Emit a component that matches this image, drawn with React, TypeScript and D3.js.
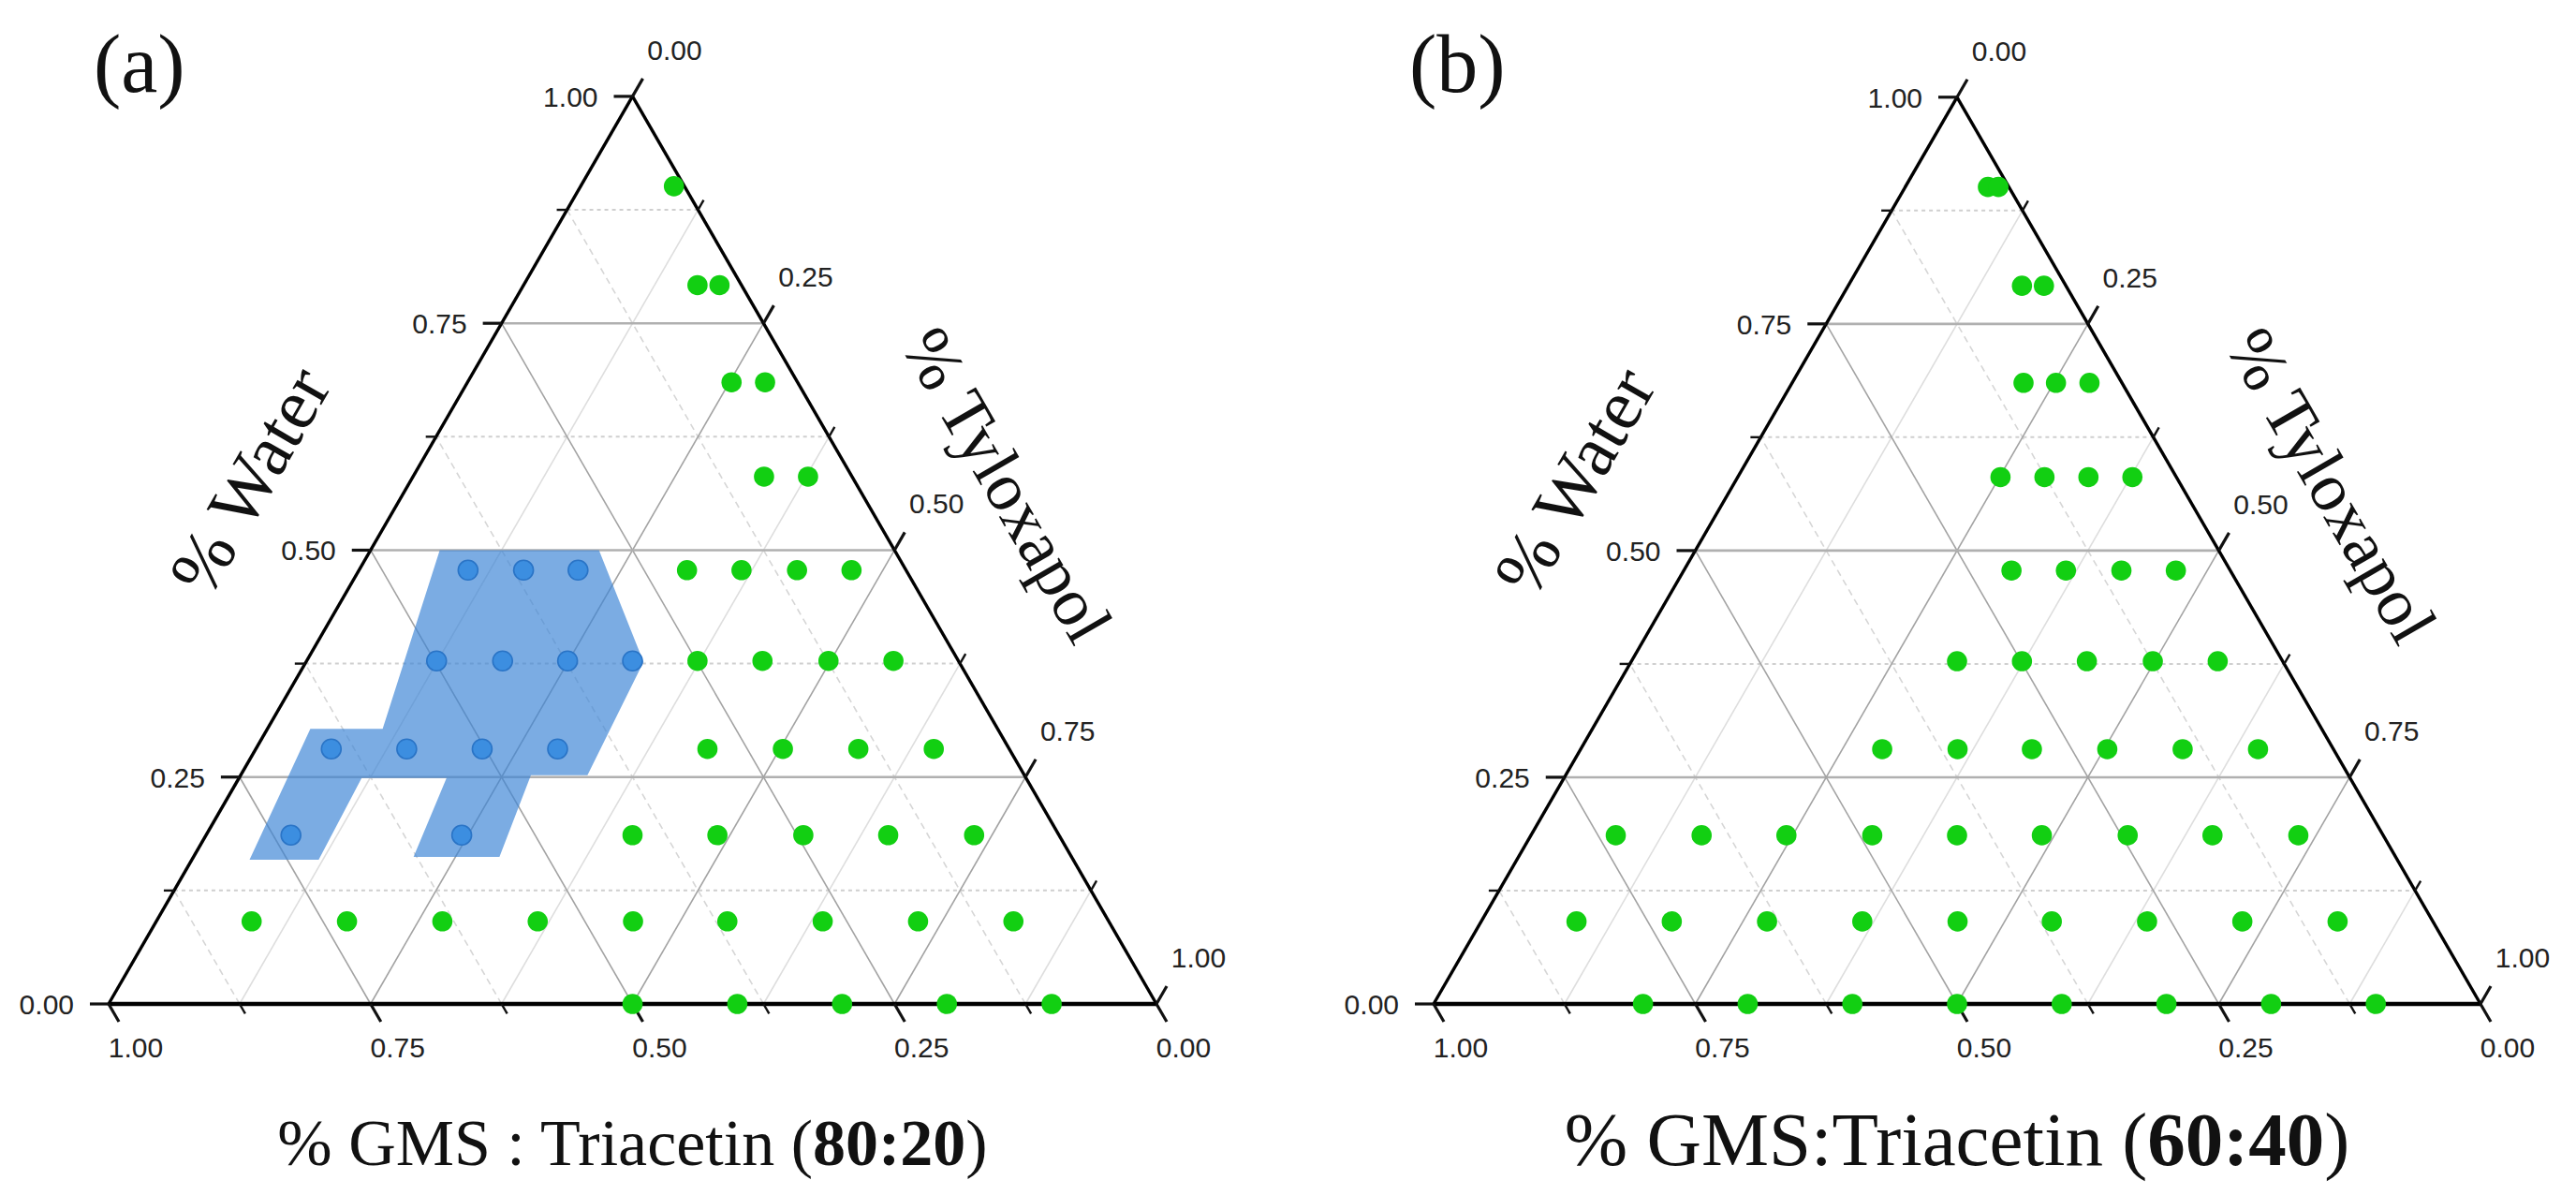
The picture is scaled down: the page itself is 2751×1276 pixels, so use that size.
import React, { useEffect } from "react";
import * as d3 from "d3";

// ---------- DATA (ternary values: [water, tyloxapol]; GMS:Triacetin = 1 - water - tyloxapol) ----------
const majorTicks = [0, 0.25, 0.5, 0.75, 1];
const minorTicks = [0.125, 0.375, 0.625, 0.875];
const tickLabels = ["0.00", "0.25", "0.50", "0.75", "1.00"];

const greenA: [number, number][] = [
  [0.901, 0.089],
  [0.792, 0.166], [0.792, 0.187],
  [0.685, 0.252], [0.685, 0.284],
  [0.581, 0.335], [0.581, 0.377],
  [0.478, 0.313], [0.478, 0.365], [0.478, 0.418], [0.478, 0.470],
  [0.378, 0.373], [0.378, 0.435], [0.378, 0.498], [0.378, 0.560],
  [0.281, 0.431], [0.281, 0.503], [0.281, 0.575], [0.281, 0.647],
  [0.186, 0.407], [0.186, 0.488], [0.186, 0.570], [0.186, 0.651], [0.186, 0.733],
  [0.091, 0.091], [0.091, 0.182], [0.091, 0.273], [0.091, 0.364], [0.091, 0.455],
  [0.091, 0.545], [0.091, 0.636], [0.091, 0.727], [0.091, 0.818],
  [0, 0.5], [0, 0.6], [0, 0.7], [0, 0.8], [0, 0.9],
];

const blueA: [number, number][] = [
  [0.478, 0.104], [0.478, 0.157], [0.478, 0.209],
  [0.378, 0.124], [0.378, 0.187], [0.378, 0.249], [0.378, 0.311],
  [0.281, 0.072], [0.281, 0.144], [0.281, 0.216], [0.281, 0.288],
  [0.186, 0.081], [0.186, 0.244],
];

const regionA: [number, number][] = [
  [0.5, 0.066], [0.5, 0.218], [0.377, 0.322], [0.252, 0.331], [0.252, 0.277],
  [0.162, 0.292], [0.162, 0.21], [0.249, 0.198], [0.249, 0.117], [0.159, 0.121],
  [0.159, 0.055], [0.303, 0.041], [0.303, 0.11],
];

const greenB: [number, number][] = [
  [0.901, 0.079], [0.901, 0.089],
  [0.792, 0.166], [0.792, 0.187],
  [0.685, 0.221], [0.685, 0.252], [0.685, 0.284],
  [0.581, 0.251], [0.581, 0.293], [0.581, 0.335], [0.581, 0.377],
  [0.478, 0.313], [0.478, 0.365], [0.478, 0.418], [0.478, 0.470],
  [0.378, 0.311], [0.378, 0.373], [0.378, 0.435], [0.378, 0.498], [0.378, 0.560],
  [0.281, 0.288], [0.281, 0.360], [0.281, 0.431], [0.281, 0.503], [0.281, 0.575], [0.281, 0.647],
  [0.186, 0.081], [0.186, 0.163], [0.186, 0.244], [0.186, 0.326], [0.186, 0.407],
  [0.186, 0.488], [0.186, 0.570], [0.186, 0.651], [0.186, 0.733],
  [0.091, 0.091], [0.091, 0.182], [0.091, 0.273], [0.091, 0.364], [0.091, 0.455],
  [0.091, 0.545], [0.091, 0.636], [0.091, 0.727], [0.091, 0.818],
  [0, 0.2], [0, 0.3], [0, 0.4], [0, 0.5], [0, 0.6], [0, 0.7], [0, 0.8], [0, 0.9],
];

const blueB: [number, number][] = [];
const regionB: [number, number][] = [];

// ---------- STYLE ----------
const W = 2751;
const H = 1276;
const SQ = Math.sqrt(3) / 2;
const TICK_FONT = "'Liberation Sans', Arial, sans-serif";
const SERIF = "'Liberation Serif', 'Times New Roman', serif";

type PanelProps = {
  left: number;
  right: number;
  bottom: number;
  green: [number, number][];
  blue: [number, number][];
  region: [number, number][];
  tag: string;
  tagX: number;
  titlePre: string;
  titleBold: string;
  titleSize: number;
};

function Panel(p: PanelProps) {
  const L = p.right - p.left;
  const x = d3.scaleLinear().domain([0, 1]).range([p.left, p.right]);
  const y = d3.scaleLinear().domain([0, 1]).range([p.bottom, p.bottom - L * SQ]);
  // water w, tyloxapol t
  const pos = (w: number, t: number): [number, number] => [x(t + w / 2), y(w)];

  const lineOf = (a: [number, number], b: [number, number], key: string, style: any) => (
    <line key={key} x1={a[0]} y1={a[1]} x2={b[0]} y2={b[1]} {...style} />
  );

  const grid: React.ReactNode[] = [];
  const minorH = { stroke: "#cfcfcf", strokeWidth: 2, strokeDasharray: "4 4" };
  const minorT = { stroke: "#dedede", strokeWidth: 1.6 };
  const minorG = { stroke: "#d6d6d6", strokeWidth: 1.6, strokeDasharray: "7 5" };
  const majorH = { stroke: "#b0b0b0", strokeWidth: 2.6 };
  const majorD = { stroke: "#a3a3a3", strokeWidth: 1.6 };
  minorTicks.forEach((v, i) => {
    grid.push(lineOf(pos(v, 0), pos(v, 1 - v), "mh" + i, minorH));
    grid.push(lineOf(pos(0, v), pos(1 - v, v), "mt" + i, minorT));
    grid.push(lineOf(pos(0, 1 - v), pos(1 - v, 0), "mg" + i, minorG));
  });
  [0.25, 0.5, 0.75].forEach((v, i) => {
    grid.push(lineOf(pos(v, 0), pos(v, 1 - v), "Mh" + i, majorH));
    grid.push(lineOf(pos(0, v), pos(1 - v, v), "Mt" + i, majorD));
    grid.push(lineOf(pos(0, 1 - v), pos(1 - v, 0), "Mg" + i, majorD));
  });

  const ticks: React.ReactNode[] = [];
  const labels: React.ReactNode[] = [];
  const dirRight: [number, number] = [0.5, -SQ];
  const dirBottom: [number, number] = [0.5, SQ];
  const addTick = (pt: [number, number], dir: [number, number], len: number, sw: number, key: string) => {
    ticks.push(
      <line key={key} x1={pt[0]} y1={pt[1]} x2={pt[0] + dir[0] * len} y2={pt[1] + dir[1] * len}
        stroke="#111" strokeWidth={sw} />
    );
  };
  majorTicks.forEach((v, i) => {
    const pl = pos(v, 0);
    addTick(pl, [-1, 0], 20, 3.2, "lt" + i);
    labels.push(
      <text key={"ll" + i} x={pl[0] - 37} y={pl[1]} dy="0.36em" textAnchor="end"
        fontFamily={TICK_FONT} fontSize={30} fill="#222">{tickLabels[i]}</text>
    );
    const pr = pos(1 - v, v);
    addTick(pr, dirRight, 22, 3.2, "rt" + i);
    labels.push(
      <text key={"rl" + i} x={pr[0] + 45} y={pr[1] - 50} dy="0.36em" textAnchor="middle"
        fontFamily={TICK_FONT} fontSize={30} fill="#222">{tickLabels[i]}</text>
    );
    const pb = pos(0, 1 - v);
    addTick(pb, dirBottom, 22, 3.2, "bt" + i);
    labels.push(
      <text key={"bl" + i} x={pb[0] + 29} y={pb[1] + 46} dy="0.36em" textAnchor="middle"
        fontFamily={TICK_FONT} fontSize={30} fill="#222">{tickLabels[i]}</text>
    );
  });
  minorTicks.forEach((v, i) => {
    addTick(pos(v, 0), [-1, 0], 11, 2.4, "lm" + i);
    addTick(pos(1 - v, v), dirRight, 12, 2.4, "rm" + i);
    addTick(pos(0, 1 - v), dirBottom, 12, 2.4, "bm" + i);
  });

  const A = pos(1, 0);
  const BL = pos(0, 0);
  const BR = pos(0, 1);

  const regionPath = p.region.length
    ? d3.line()(p.region.map(([w, t]) => pos(w, t))) + "Z"
    : null;

  const midL = pos(0.5, 0);
  const midR = pos(0.5, 0.5);
  const wl: [number, number] = [midL[0] - SQ * 150, midL[1] - 0.5 * 150];
  const tl: [number, number] = [midR[0] + SQ * 140, midR[1] - 0.5 * 140];

  return (
    <g>
      {grid}
      {regionPath && <path d={regionPath} fill="#3d84d6" fillOpacity={0.68} stroke="none" />}
      <line x1={BL[0]} y1={BL[1]} x2={A[0]} y2={A[1]} stroke="#000" strokeWidth={3.4} />
      <line x1={A[0]} y1={A[1]} x2={BR[0]} y2={BR[1]} stroke="#000" strokeWidth={3.4} />
      <line x1={BL[0]} y1={BL[1]} x2={BR[0]} y2={BR[1]} stroke="#000" strokeWidth={4.5} />
      {ticks}
      {labels}
      {p.blue.map(([w, t], i) => {
        const c = pos(w, t);
        return <circle key={"b" + i} cx={c[0]} cy={c[1]} r={10.5} fill="#3c8ee0" stroke="#2a74c6" strokeWidth={1.6} />;
      })}
      {p.green.map(([w, t], i) => {
        const c = pos(w, t);
        return <circle key={"g" + i} cx={c[0]} cy={c[1]} r={10.8} fill="#12cf12" />;
      })}
      <text x={wl[0]} y={wl[1]} dy="0.35em" textAnchor="middle" fontFamily={SERIF} fontSize={77}
        transform={`rotate(-60 ${wl[0]} ${wl[1]})`} fill="#111">% Water</text>
      <text x={tl[0]} y={tl[1]} dy="0.35em" textAnchor="middle" fontFamily={SERIF} fontSize={73}
        transform={`rotate(60 ${tl[0]} ${tl[1]})`} fill="#111">% Tyloxapol</text>
      <text x={(p.left + p.right) / 2} y={1244} textAnchor="middle" fontFamily={SERIF}
        fontSize={p.titleSize} fill="#111">
        {p.titlePre}
        <tspan fontWeight="bold">{p.titleBold}</tspan>)
      </text>
      <text x={p.tagX} y={98} fontFamily={SERIF} fontSize={88} fill="#111">{p.tag}</text>
    </g>
  );
}

export default function App() {
  useEffect(() => {
    document.body.style.margin = "0";
  }, []);
  return (
    <svg width={W} height={H} viewBox={`0 0 ${W} ${H}`}
      style={{ position: "absolute", left: 0, top: 0, display: "block", background: "#fff" }}>
      <rect x={0} y={0} width={W} height={H} fill="#fff" />
      <Panel left={116} right={1235} bottom={1072} green={greenA} blue={blueA} region={regionA}
        tag="(a)" tagX={100} titlePre="% GMS : Triacetin (" titleBold="80:20" titleSize={70} />
      <Panel left={1531} right={2649} bottom={1072} green={greenB} blue={blueB} region={regionB}
        tag="(b)" tagX={1505} titlePre="% GMS:Triacetin (" titleBold="60:40" titleSize={81} />
    </svg>
  );
}
